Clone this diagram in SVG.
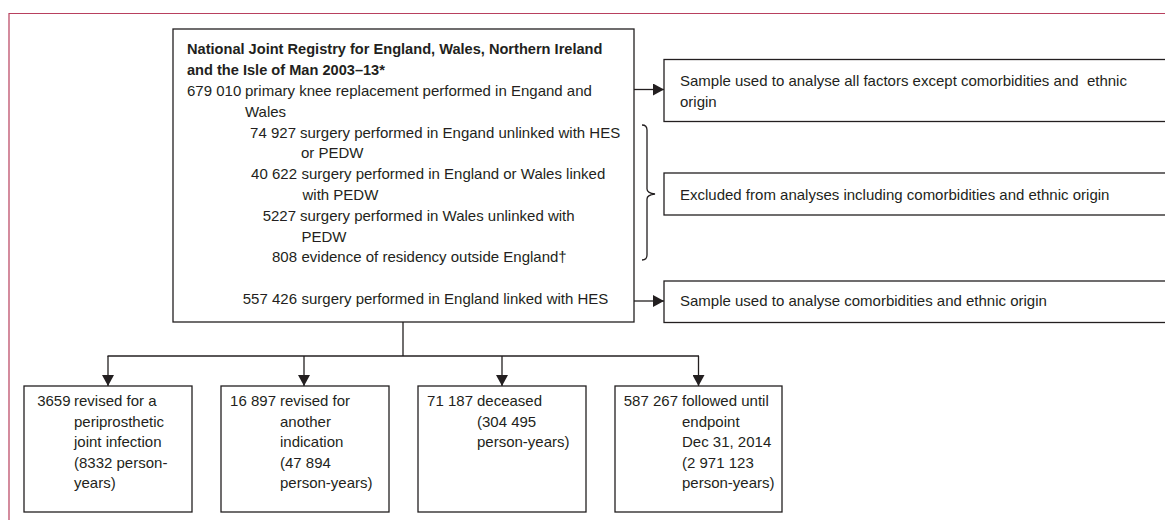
<svg xmlns="http://www.w3.org/2000/svg" width="1165" height="520" viewBox="0 0 1165 520">
<style>
.t{font-family:"Liberation Sans",Arial,sans-serif;font-size:15px;fill:#231f20}
.b{font-weight:bold;font-size:14.6px}
.e{text-anchor:end}
.box{fill:#fff;stroke:#231f20;stroke-width:1.3}
.ln{fill:none;stroke:#231f20;stroke-width:1.3}
.frame{fill:none;stroke:#b8405e;stroke-width:1.2}
</style>
<defs>
<marker id="ah" viewBox="0 0 11 12" refX="11" refY="6" markerWidth="11" markerHeight="12" markerUnits="userSpaceOnUse" orient="auto">
<path d="M0,0 L11,6 L0,12 z" fill="#231f20"/>
</marker>
</defs>
<rect width="1165" height="520" fill="#fff"/>
<path class="frame" d="M9,520 L9,13.5 L1165,13.5"/>

<g id="connectors">
<line class="ln" x1="634" y1="89.5" x2="664" y2="89.5" marker-end="url(#ah)"/>
<line class="ln" x1="634" y1="301" x2="664" y2="301" marker-end="url(#ah)"/>
<path class="ln" d="M642,125 Q647,125 647,130 L647,189 Q647,193 655,194 Q647,195 647,199 L647,255 Q647,260 642,260"/>
<line class="ln" x1="403" y1="322" x2="403" y2="356"/>
<line class="ln" x1="107.5" y1="356" x2="699" y2="356"/>
<line class="ln" x1="108" y1="356" x2="108" y2="386" marker-end="url(#ah)"/>
<line class="ln" x1="304" y1="356" x2="304" y2="386" marker-end="url(#ah)"/>
<line class="ln" x1="502" y1="356" x2="502" y2="386" marker-end="url(#ah)"/>
<line class="ln" x1="698.5" y1="356" x2="698.5" y2="386" marker-end="url(#ah)"/>
</g>

<g id="registry">
<rect class="box" x="173" y="29" width="461" height="293"/>
<text class="t b" x="187" y="54">National Joint Registry for England, Wales, Northern Ireland</text>
<text class="t b" x="187" y="75">and the Isle of Man 2003–13*</text>
<text class="t" x="187" y="96">679 010</text>
<text class="t" x="245" y="96">primary knee replacement performed in Engand and</text>
<text class="t" x="245" y="116.5">Wales</text>
<text class="t e" x="296" y="137.5">74 927</text>
<text class="t" x="300" y="137.5">surgery performed in Engand unlinked with HES</text>
<text class="t" x="301" y="158">or PEDW</text>
<text class="t e" x="297" y="179">40 622</text>
<text class="t" x="301.5" y="179">surgery performed in England or Wales linked</text>
<text class="t" x="302.5" y="200">with PEDW</text>
<text class="t e" x="296" y="221">5227</text>
<text class="t" x="300" y="221">surgery performed in Wales unlinked with</text>
<text class="t" x="301.5" y="241.5">PEDW</text>
<text class="t e" x="297" y="262">808</text>
<text class="t" x="301.5" y="262">evidence of residency outside England†</text>
<text class="t e" x="297" y="304">557 426</text>
<text class="t" x="301.5" y="304">surgery performed in England linked with HES</text>
</g>

<g id="sample-all">
<rect class="box" x="664" y="59.5" width="520" height="62"/>
<text class="t" x="680" y="86" xml:space="preserve">Sample used to analyse all factors except comorbidities and  ethnic</text>
<text class="t" x="680" y="106.5">origin</text>
</g>

<g id="excluded">
<rect class="box" x="664" y="173" width="520" height="42"/>
<text class="t" x="680" y="199.5">Excluded from analyses including comorbidities and ethnic origin</text>
</g>

<g id="sample-comorb">
<rect class="box" x="664" y="281" width="520" height="41.5"/>
<text class="t" x="680" y="305.5">Sample used to analyse comorbidities and ethnic origin</text>
</g>

<g id="infection">
<rect class="box" x="24" y="386" width="168" height="126"/>
<text class="t e" x="70.5" y="406">3659</text>
<text class="t" x="74" y="406">revised for a</text>
<text class="t" x="74" y="426.5">periprosthetic</text>
<text class="t" x="74" y="447">joint infection</text>
<text class="t" x="74" y="467.5">(8332 person-</text>
<text class="t" x="74" y="488">years)</text>
</g>

<g id="other">
<rect class="box" x="221" y="386" width="168" height="126"/>
<text class="t e" x="276" y="406">16 897</text>
<text class="t" x="280" y="406">revised for</text>
<text class="t" x="280" y="426.5">another</text>
<text class="t" x="280" y="447">indication</text>
<text class="t" x="280" y="467.5">(47 894</text>
<text class="t" x="280" y="488">person-years)</text>
</g>

<g id="deceased">
<rect class="box" x="418" y="386" width="168" height="126"/>
<text class="t e" x="473" y="406">71 187</text>
<text class="t" x="477" y="406">deceased</text>
<text class="t" x="477" y="426.5">(304 495</text>
<text class="t" x="477" y="447">person-years)</text>
</g>

<g id="followed">
<rect class="box" x="615" y="386" width="167" height="126"/>
<text class="t e" x="678" y="406">587 267</text>
<text class="t" x="682" y="406">followed until</text>
<text class="t" x="682" y="426.5">endpoint</text>
<text class="t" x="682" y="447">Dec 31, 2014</text>
<text class="t" x="682" y="467.5">(2 971 123</text>
<text class="t" x="682" y="488">person-years)</text>
</g>
</svg>
